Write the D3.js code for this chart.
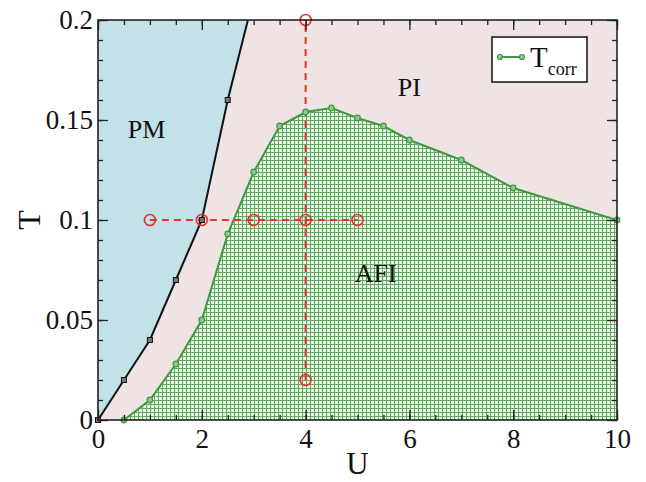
<!DOCTYPE html>
<html>
<head>
<meta charset="utf-8">
<script src="https://cdn.jsdelivr.net/npm/d3@7"></script>
<style>
  body { margin: 0; background: #fff; }
  text { font-family: "Liberation Serif", "DejaVu Serif", serif; }
</style>
</head>
<body>
<svg id="chart" width="646" height="482"></svg>
<script>
// PM / PI boundary (black squares)
var pmU = [0, 0.5, 1, 1.5, 2, 2.5];
var pmT = [0, 0.02, 0.04, 0.07, 0.1, 0.16];
// continuation of the black line beyond the frame (clipped, no marker)
var pmTailU = 3.0;
var pmTailT = 0.2115;

// T_corr curve (green circles)
var corrU = [0.5, 1, 1.5, 2, 2.5, 3, 3.5, 4, 4.5, 5, 5.5, 6, 7, 8, 10];
var corrT = [0, 0.01, 0.028, 0.05, 0.093, 0.124, 0.147, 0.154, 0.156, 0.151, 0.147, 0.14, 0.13, 0.116, 0.1];

// red dashed cuts
var cutHU = [1, 2, 3, 4, 5];   // at T = 0.1
var cutHT = 0.1;
var cutVT = [0.02, 0.1, 0.2];  // at U = 4
var cutVU = 4;

var xTicks = [0, 2, 4, 6, 8, 10];
var yTicks = [0, 0.05, 0.1, 0.15, 0.2];
var yTickLabels = ['0', '0.05', '0.1', '0.15', '0.2'];

var svg = d3.select('#chart');
var padding = {t: 20, r: 29, b: 62, l: 98};
var width = 646 - padding.l - padding.r;
var height = 482 - padding.t - padding.b;

var xScale = d3.scaleLinear().domain([0, 10]).range([0, width]);
var yScale = d3.scaleLinear().domain([0, 0.2]).range([height, 0]);

var defs = svg.append('defs');
defs.append('clipPath').attr('id', 'plotClip')
    .append('rect').attr('width', width).attr('height', height);

// green grid hatch
var pat = defs.append('pattern')
    .attr('id', 'hatch')
    .attr('patternUnits', 'userSpaceOnUse')
    .attr('width', 4).attr('height', 4);
pat.append('rect').attr('width', 4).attr('height', 4).attr('fill', '#eef5ea');
pat.append('path')
    .attr('d', 'M0,0.5H4M0.5,0V4')
    .attr('stroke', '#62aa62')
    .attr('stroke-width', 1.1);

var chartG = svg.append('g')
    .attr('transform', 'translate(' + [padding.l, padding.t] + ')');

var plotG = chartG.append('g').attr('clip-path', 'url(#plotClip)');

// PI background
plotG.append('rect')
    .attr('width', width).attr('height', height)
    .attr('fill', '#efe3e3');

var pmPts = pmU.map(function(u, i) { return [u, pmT[i]]; });
var pmLinePts = pmPts.concat([[pmTailU, pmTailT]]);

// PM region
var pmPoly = pmLinePts.concat([[0, pmTailT]]);
plotG.append('path')
    .attr('d', d3.line()
        .x(function(d) { return xScale(d[0]); })
        .y(function(d) { return yScale(d[1]); })(pmPoly) + 'Z')
    .attr('fill', '#c2e2e7');

// AFI region
var corrPts = corrU.map(function(u, i) { return [u, corrT[i]]; });
plotG.append('path')
    .datum(corrPts)
    .attr('d', d3.area()
        .x(function(d) { return xScale(d[0]); })
        .y0(yScale(0))
        .y1(function(d) { return yScale(d[1]); }))
    .attr('fill', 'url(#hatch)');

// green line
var lineFn = d3.line()
    .x(function(d) { return xScale(d[0]); })
    .y(function(d) { return yScale(d[1]); });

plotG.append('path')
    .datum(corrPts)
    .attr('d', lineFn)
    .attr('fill', 'none')
    .attr('stroke', '#3f9a3f')
    .attr('stroke-width', 2);

// black line
plotG.append('path')
    .datum(pmLinePts)
    .attr('d', lineFn)
    .attr('fill', 'none')
    .attr('stroke', '#111')
    .attr('stroke-width', 2);

// red dashed cuts
chartG.append('line')
    .attr('x1', xScale(cutHU[0])).attr('x2', xScale(cutHU[cutHU.length - 1]))
    .attr('y1', yScale(cutHT)).attr('y2', yScale(cutHT))
    .attr('stroke', '#e8332a').attr('stroke-width', 2)
    .attr('stroke-dasharray', '7,5');
chartG.append('line')
    .attr('x1', xScale(cutVU)).attr('x2', xScale(cutVU))
    .attr('y1', yScale(cutVT[0])).attr('y2', yScale(cutVT[cutVT.length - 1]))
    .attr('stroke', '#e8332a').attr('stroke-width', 2)
    .attr('stroke-dasharray', '7,5');

// green markers
chartG.selectAll('.corr-pt')
    .data(corrPts)
    .enter().append('circle')
    .attr('class', 'corr-pt')
    .attr('cx', function(d) { return xScale(d[0]); })
    .attr('cy', function(d) { return yScale(d[1]); })
    .attr('r', 2.8)
    .attr('fill', '#8cc88c')
    .attr('stroke', '#3f9a3f')
    .attr('stroke-width', 1.2);

// black square markers
chartG.selectAll('.pm-pt')
    .data(pmPts)
    .enter().append('rect')
    .attr('class', 'pm-pt')
    .attr('x', function(d) { return xScale(d[0]) - 2.5; })
    .attr('y', function(d) { return yScale(d[1]) - 2.5; })
    .attr('width', 5).attr('height', 5)
    .attr('fill', '#777')
    .attr('stroke', '#111')
    .attr('stroke-width', 1);

// red open circles
var redPts = cutHU.map(function(u) { return [u, cutHT]; })
    .concat(cutVT.filter(function(t) { return t !== cutHT; })
        .map(function(t) { return [cutVU, t]; }));
chartG.selectAll('.red-pt')
    .data(redPts)
    .enter().append('circle')
    .attr('class', 'red-pt')
    .attr('cx', function(d) { return xScale(d[0]); })
    .attr('cy', function(d) { return yScale(d[1]); })
    .attr('r', 5.5)
    .attr('fill', 'none')
    .attr('stroke', '#e8332a')
    .attr('stroke-width', 1.6);

// axes: ticks inward on all four sides
function styleAxis(g) {
    g.attr('font-family', '"Liberation Serif", serif').attr('font-size', 27);
    g.select('.domain').remove();
    g.selectAll('line').attr('stroke', '#222').attr('stroke-width', 1.3);
    g.selectAll('text')
        .attr('font-family', '"Liberation Serif", serif')
        .attr('font-size', 27)
        .attr('fill', '#111');
}

var xMinor = d3.range(0, 10.01, 0.5);
var yMinor = d3.range(0, 0.2001, 0.01);

chartG.append('g')
    .attr('transform', 'translate(0,' + height + ')')
    .call(d3.axisBottom(xScale).tickValues(xMinor).tickSize(-5).tickFormat(''))
    .call(styleAxis);
chartG.append('g')
    .attr('transform', 'translate(0,' + height + ')')
    .call(d3.axisBottom(xScale).tickValues(xTicks).tickSize(-10).tickPadding(9)
        .tickFormat(d3.format('d')))
    .call(styleAxis);
chartG.append('g')
    .call(d3.axisTop(xScale).tickValues(xMinor).tickSize(-5).tickFormat(''))
    .call(styleAxis);
chartG.append('g')
    .call(d3.axisTop(xScale).tickValues(xTicks).tickSize(-10).tickFormat(''))
    .call(styleAxis);

chartG.append('g')
    .call(d3.axisLeft(yScale).tickValues(yMinor).tickSize(-5).tickFormat(''))
    .call(styleAxis);
chartG.append('g')
    .call(d3.axisLeft(yScale).tickValues(yTicks).tickSize(-10).tickPadding(5)
        .tickFormat(function(d, i) { return yTickLabels[i]; }))
    .call(styleAxis);
chartG.append('g')
    .attr('transform', 'translate(' + width + ',0)')
    .call(d3.axisRight(yScale).tickValues(yMinor).tickSize(-5).tickFormat(''))
    .call(styleAxis);
chartG.append('g')
    .attr('transform', 'translate(' + width + ',0)')
    .call(d3.axisRight(yScale).tickValues(yTicks).tickSize(-10).tickFormat(''))
    .call(styleAxis);

// frame
chartG.append('rect')
    .attr('width', width).attr('height', height)
    .attr('fill', 'none')
    .attr('stroke', '#222')
    .attr('stroke-width', 1.6);

// region labels
chartG.append('text')
    .attr('x', xScale(0.935)).attr('y', yScale(0.141))
    .attr('text-anchor', 'middle')
    .style('font-size', '26px').attr('fill', '#111')
    .text('PM');
chartG.append('text')
    .attr('x', xScale(6.0)).attr('y', yScale(0.162))
    .attr('text-anchor', 'middle')
    .style('font-size', '26px').attr('fill', '#111')
    .text('PI');
chartG.append('text')
    .attr('x', xScale(5.35)).attr('y', yScale(0.069))
    .attr('text-anchor', 'middle')
    .style('font-size', '26px').attr('fill', '#111')
    .text('AFI');

// axis titles
svg.append('text')
    .attr('x', padding.l + width / 2).attr('y', 474)
    .attr('text-anchor', 'middle')
    .style('font-size', '31px').attr('fill', '#111')
    .text('U');
svg.append('text')
    .attr('transform', 'translate(' + [40, padding.t + yScale(0.1)] + ') rotate(-90)')
    .attr('text-anchor', 'middle')
    .style('font-size', '32px').attr('fill', '#111')
    .text('T');

// legend
var leg = svg.append('g').attr('transform', 'translate(492,37)');
leg.append('rect')
    .attr('width', 95).attr('height', 45)
    .attr('fill', '#fff').attr('stroke', '#111').attr('stroke-width', 1.5);
leg.append('line')
    .attr('x1', 8).attr('x2', 30).attr('y1', 20).attr('y2', 20)
    .attr('stroke', '#3f9a3f').attr('stroke-width', 2);
[8, 30].forEach(function(x) {
    leg.append('circle')
        .attr('cx', x).attr('cy', 20).attr('r', 2.5)
        .attr('fill', '#8cc88c').attr('stroke', '#3f9a3f').attr('stroke-width', 1.2);
});
var legText = leg.append('text')
    .attr('x', 38).attr('y', 30)
    .style('font-size', '29px').attr('fill', '#111');
legText.append('tspan').text('T');
legText.append('tspan')
    .attr('dy', 8)
    .style('font-size', '18px')
    .text('corr');
</script>
</body>
</html>
